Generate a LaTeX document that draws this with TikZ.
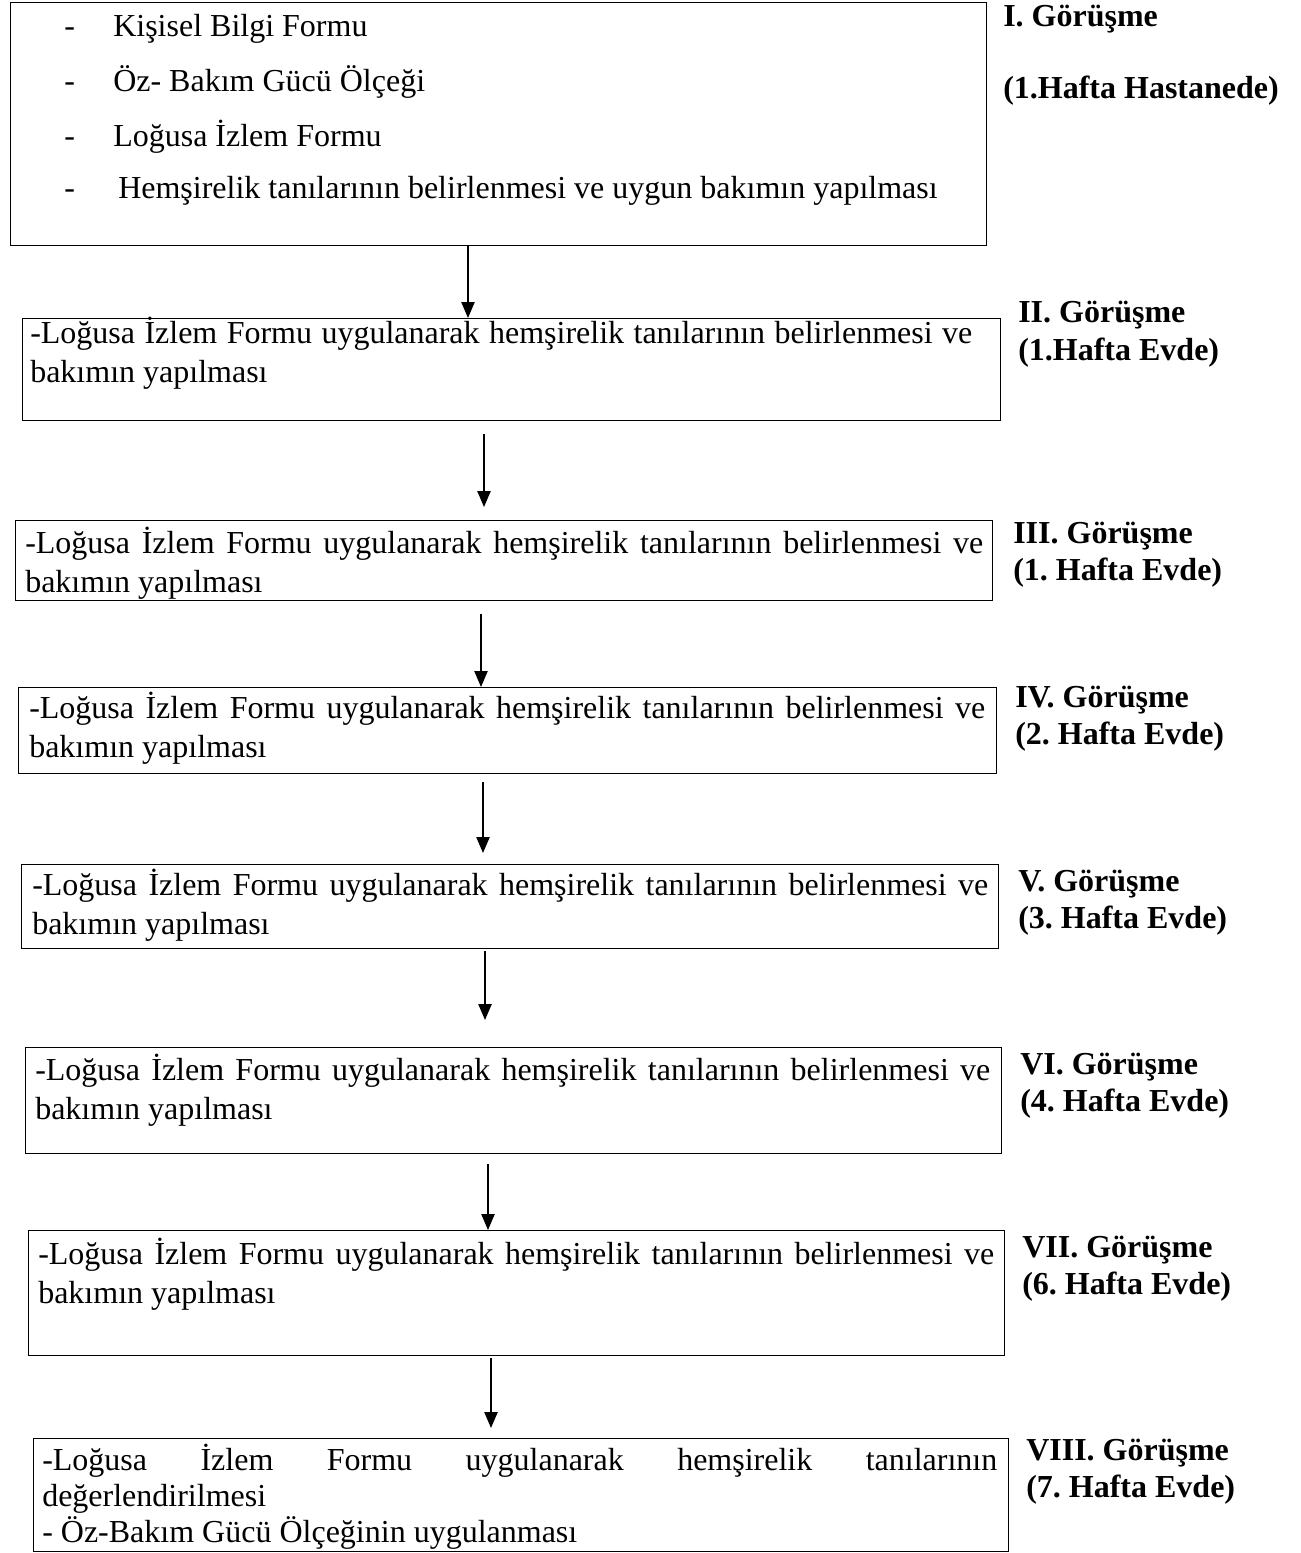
\documentclass[tikz,border=0pt]{standalone}
\usepackage{fontspec}
\setmainfont{Liberation Serif}
\usetikzlibrary{arrows.meta,calc}
\frenchspacing
\begin{document}
\begin{tikzpicture}[x=0.75pt,y=-0.75pt,
  box/.style={draw,line width=0.9pt,rectangle,inner sep=0pt,anchor=north west},
  para/.style={anchor=base west,inner sep=0pt,align=justify,
    font=\fontsize{24}{29.5}\selectfont\frenchspacing},
  item/.style={anchor=base west,inner sep=0pt,font=\fontsize{24}{29}\selectfont},
  lbl/.style={anchor=base west,inner sep=0pt,font=\fontsize{24}{29}\selectfont\bfseries\frenchspacing},
  arr/.style={line width=1pt,-{Triangle[length=12pt,width=10pt]}}]
\useasboundingbox (0,0) rectangle (1300,1553);
% boxes
\node[box,minimum width=976*0.75pt,minimum height=243*0.75pt] (b1) at (10,2) {};
\node[box,minimum width=978*0.75pt,minimum height=102*0.75pt] (b2) at (22,318) {};
\node[box,minimum width=977*0.75pt,minimum height=80*0.75pt] (b3) at (15,520) {};
\node[box,minimum width=978*0.75pt,minimum height=86*0.75pt] (b4) at (18,687) {};
\node[box,minimum width=977*0.75pt,minimum height=84*0.75pt] (b5) at (21,864) {};
\node[box,minimum width=976*0.75pt,minimum height=106*0.75pt] (b6) at (25,1047) {};
\node[box,minimum width=976*0.75pt,minimum height=125*0.75pt] (b7) at (28,1230) {};
\node[box,minimum width=975*0.75pt,minimum height=113*0.75pt] (b8) at (33,1438) {};
% box 1 items
\node[item] (d1) at (64,36) {-};
\node[item] (t1) at (113,36) {Kişisel Bilgi Formu};
\node[item] (d2) at (64,91) {-};
\node[item] (t2) at (113,91) {Öz- Bakım Gücü Ölçeği};
\node[item] (d3) at (64,146) {-};
\node[item] (t3) at (113,146) {Loğusa İzlem Formu};
\node[item] (d4) at (64,198) {-};
\node[item] (t4) at (118,198) {Hemşirelik tanılarının belirlenmesi ve uygun bakımın yapılması};
% paragraph texts
\node[para,text width=942*0.75pt] (p2) at (30,343) {-Loğusa İzlem Formu uygulanarak hemşirelik tanılarının belirlenmesi ve\linebreak bakımın yapılması};
\node[para,text width=958*0.75pt] (p3) at (25,553) {-Loğusa İzlem Formu uygulanarak hemşirelik tanılarının belirlenmesi ve\linebreak bakımın yapılması};
\node[para,text width=956*0.75pt] (p4) at (29,718) {-Loğusa İzlem Formu uygulanarak hemşirelik tanılarının belirlenmesi ve\linebreak bakımın yapılması};
\node[para,text width=956*0.75pt] (p5) at (32,895) {-Loğusa İzlem Formu uygulanarak hemşirelik tanılarının belirlenmesi ve\linebreak bakımın yapılması};
\node[para,text width=955*0.75pt] (p6) at (35,1080) {-Loğusa İzlem Formu uygulanarak hemşirelik tanılarının belirlenmesi ve\linebreak bakımın yapılması};
\node[para,text width=956*0.75pt] (p7) at (38,1264) {-Loğusa İzlem Formu uygulanarak hemşirelik tanılarının belirlenmesi ve\linebreak bakımın yapılması};
\node[para,text width=955*0.75pt,font=\fontsize{24}{27}\selectfont] (p8) at (42,1470) {-Loğusa İzlem Formu uygulanarak hemşirelik tanılarının\linebreak değerlendirilmesi\\- Öz-Bakım Gücü Ölçeğinin uygulanması};
% labels
\node[lbl] (l1a) at (1003,26) {I. Görüşme};
\node[lbl] (l1b) at (1003,98) {(1.Hafta Hastanede)};
\node[lbl] (l2a) at (1018,322) {II. Görüşme};
\node[lbl] (l2b) at (1018,360) {(1.Hafta Evde)};
\node[lbl] (l3a) at (1013,543) {III. Görüşme};
\node[lbl] (l3b) at (1013,580) {(1. Hafta Evde)};
\node[lbl] (l4a) at (1015,707) {IV. Görüşme};
\node[lbl] (l4b) at (1015,744) {(2. Hafta Evde)};
\node[lbl] (l5a) at (1018,891) {V. Görüşme};
\node[lbl] (l5b) at (1018,928) {(3. Hafta Evde)};
\node[lbl] (l6a) at (1020,1074) {VI. Görüşme};
\node[lbl] (l6b) at (1020,1111) {(4. Hafta Evde)};
\node[lbl] (l7a) at (1022,1257) {VII. Görüşme};
\node[lbl] (l7b) at (1022,1294) {(6. Hafta Evde)};
\node[lbl] (l8a) at (1026,1460) {VIII. Görüşme};
\node[lbl] (l8b) at (1026,1497) {(7. Hafta Evde)};
% arrows
\draw[arr] (b1.south -| 468,0) -- (b2.north -| 468,0);
\draw[arr] ($(b2.south -| 484,0)+(0,13)$) -- ($(b3.north -| 484,0)+(0,-13)$);
\draw[arr] ($(b3.south -| 481,0)+(0,13)$) -- ($(b4.north -| 481,0)$);
\draw[arr] ($(b4.south -| 483,0)+(0,8)$) -- ($(b5.north -| 483,0)+(0,-11)$);
\draw[arr] ($(b5.south -| 485,0)+(0,2)$) -- ($(b6.north -| 485,0)+(0,-27)$);
\draw[arr] ($(b6.south -| 488,0)+(0,10)$) -- ($(b7.north -| 488,0)$);
\draw[arr] ($(b7.south -| 491,0)+(0,2)$) -- ($(b8.north -| 491,0)+(0,-10)$);
\end{tikzpicture}
\end{document}
